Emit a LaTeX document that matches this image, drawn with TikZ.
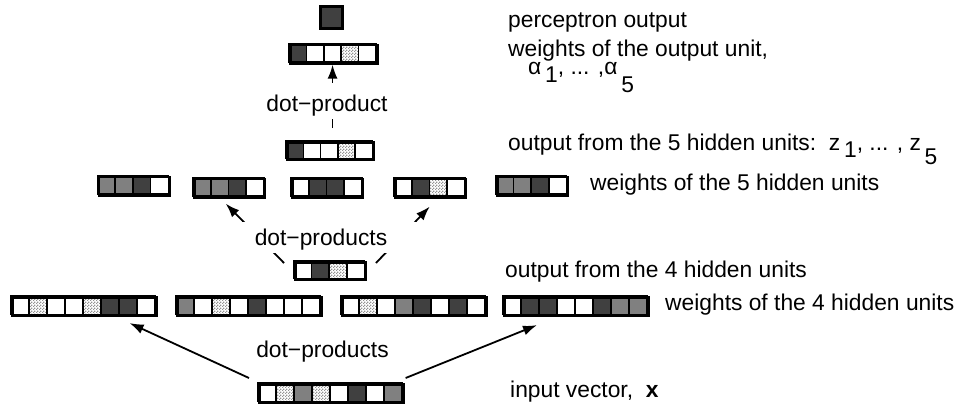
\documentclass[tikz,border=0pt]{standalone}
\usepackage{fontspec}
\setmainfont{Liberation Sans}
\usetikzlibrary{patterns,arrows.meta,calc}
\definecolor{dk}{HTML}{404040}
\definecolor{md}{HTML}{808080}
\pgfdeclarepatternformonly{finechecker}{\pgfpointorigin}{\pgfqpoint{3pt}{3pt}}{\pgfqpoint{3pt}{3pt}}{%
  \pgfpathrectangle{\pgfpointorigin}{\pgfqpoint{1.5pt}{1.5pt}}%
  \pgfpathrectangle{\pgfqpoint{1.5pt}{1.5pt}}{\pgfqpoint{1.5pt}{1.5pt}}%
  \pgfusepath{fill}}
\tikzset{
  frame/.style={draw=black, line width=2.6pt, inner sep=0pt, anchor=north west},
  cellW/.style={fill=white},
  cellG/.style={fill=md},
  cellD/.style={fill=dk},
  cellX/.style={pattern=finechecker, pattern color=gray!85},
  conn/.style={line width=1.8pt, -{Latex[length=14pt,width=10pt]}},
  lbl/.style={font=\fontsize{22.8}{26}\selectfont, inner sep=0pt},
  dlbl/.style={lbl, fill=white, inner xsep=4pt, inner ysep=2pt, text height=26pt, text depth=6pt, anchor=base},
}
% #1 name, #2 x, #3 y, #4 cell width, #5 cell height, #6 number of cells, #7 list of styles
\newcommand{\vecrow}[7]{%
  \foreach \f [count=\i from 0] in {#7} {
    \path[\f] ({#2+\i*#4},#3) rectangle ++(#4,#5);
    \draw[line width=1.6pt] ({#2+\i*#4},#3) rectangle ++(#4,#5);
  }
  \node[frame, minimum width={#6*#4*1pt}, minimum height={#5*1pt}] (#1) at (#2,#3) {};
}
\begin{document}
\begin{tikzpicture}[x=1pt,y=-1pt]
\fill[white] (0,0) rectangle (960,408);
\useasboundingbox (0,0) rectangle (960,408);

% perceptron output
\node[frame, fill=dk, minimum width=22pt, minimum height=22pt] (pout) at (319,5) {};
% output weights
\vecrow{ow}{289}{43.5}{17.4}{18.5}{5}{cellD,cellW,cellW,cellX,cellW}
% hidden-5 outputs
\vecrow{h5o}{286}{141}{17.3}{17.5}{5}{cellD,cellW,cellW,cellX,cellW}
% hidden-5 weights
\vecrow{hw1}{97.5}{175.5}{17.7}{18.5}{4}{cellG,cellG,cellD,cellW}
\vecrow{hw2}{193}{177.5}{17.7}{18.5}{4}{cellG,cellG,cellD,cellW}
\vecrow{hw3}{291}{177.5}{17.7}{18.5}{4}{cellW,cellD,cellD,cellW}
\vecrow{hw4}{394}{177.5}{17.7}{18.5}{4}{cellW,cellD,cellX,cellW}
\vecrow{hw5}{496}{175.5}{17.6}{18.5}{4}{cellG,cellG,cellD,cellW}
% hidden-4 outputs
\vecrow{h4o}{294}{261}{17.6}{17.5}{4}{cellW,cellD,cellX,cellW}
% hidden-4 weights
\vecrow{gw1}{11}{296}{18}{18.5}{8}{cellW,cellX,cellW,cellW,cellX,cellD,cellD,cellW}
\vecrow{gw2}{176}{296}{18}{18.5}{8}{cellG,cellW,cellX,cellW,cellD,cellW,cellW,cellW}
\vecrow{gw3}{341}{296}{18}{18.5}{8}{cellW,cellX,cellW,cellG,cellD,cellW,cellD,cellW}
\vecrow{gw4}{503}{296}{18}{18.5}{8}{cellW,cellD,cellD,cellW,cellW,cellD,cellG,cellG}
% input
\vecrow{inp}{258}{383}{18}{18.5}{8}{cellW,cellX,cellG,cellX,cellW,cellD,cellW,cellG}

% connector ends
\coordinate (s0) at ($(h5o.north)+(2,-13)$);
\coordinate (t0) at (s0 |- ow.south);
\coordinate (s1) at ($(h4o.north west)+(-10,2)$);
\coordinate (t1) at ($(hw2.south)+(-4,5)$);
\coordinate (s2) at ($(h4o.north east)+(9,2)$);
\coordinate (t2) at ($(hw4.south)+(-1,8)$);
\coordinate (s3) at ($(inp.north west)+(-9,-5)$);
\coordinate (t3) at ($(gw1.south east)+(-28,6)$);
\coordinate (s4) at ($(inp.north east)+(1,-5)$);
\coordinate (t4) at ($(gw4.south west)+(34,8)$);

\draw[conn] (s0) -- (t0);
\draw[conn] (s1) -- (t1);
\draw[conn] (s2) -- (t2);
\draw[conn] (s3) -- (t3);
\draw[conn] (s4) -- (t4);

\node[dlbl] (d0) at (327,111) {dot−product};
\node[dlbl, inner xsep=32pt, text height=21pt] (d1) at (321,245) {dot−products};
\node[lbl, anchor=base] (d2) at (322.5,357) {dot−products};

% right-hand texts
\node[lbl, anchor=base west] (t_po) at (508,27) {perceptron output};
\node[lbl, anchor=base west] (t_ow) at (508,56) {weights of the output unit,};
\node[lbl, anchor=base west] (t_al) at (528,74) {α\,\raisebox{-8pt}{1}, ... ,α\,\raisebox{-18pt}{5}};
\node[lbl, anchor=base west] (t_h5o) at (508,150) {output from the 5 hidden units:\ \ z\,\raisebox{-7pt}{1}, ... , z\,\raisebox{-14pt}{5}};
\node[lbl, anchor=base west] (t_hw) at (590,190) {weights of the 5 hidden units};
\node[lbl, anchor=base west] (t_h4o) at (505,277) {output from the 4 hidden units};
\node[lbl, anchor=base west] (t_gw) at (665,310) {weights of the 4 hidden units};
\node[lbl, anchor=base west] (t_in) at (510,397) {input vector,\ \ \textbf{x}};
\end{tikzpicture}
\end{document}
